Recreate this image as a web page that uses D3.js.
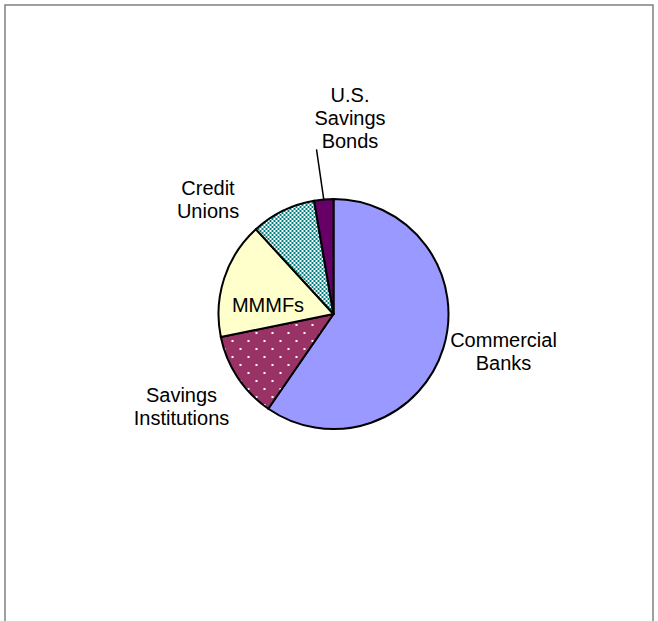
<!DOCTYPE html>
<html>
<head>
<meta charset="utf-8">
<script src="https://cdn.jsdelivr.net/npm/d3@7"></script>
<style>
html,body{margin:0;padding:0;background:#fff;}
svg{display:block;}
text{font-family:Arial,"Liberation Sans",sans-serif;font-size:20px;fill:#000;}
</style>
</head>
<body>
<svg id="chart" width="658" height="621"></svg>
<script>
// Data (percent shares)
const categories = ["Commercial Banks", "Savings Institutions", "MMMFs", "Credit Unions", "U.S. Savings Bonds"];
const values = [59.6, 12.2, 16.4, 9.1, 2.7];
const labelLines = [["Commercial", "Banks"], ["Savings", "Institutions"], ["MMMFs"], ["Credit", "Unions"], ["U.S.", "Savings", "Bonds"]];

const svg = d3.select("#chart");
const W = 658, H = 621;

// border
svg.append("path")
  .attr("d", `M5,${H} L5,5 L653,5 L653,${H}`)
  .attr("fill", "none").attr("stroke", "#808080").attr("stroke-width", 1.5);

const defs = svg.append("defs");
// dotted pattern for Savings Institutions
const p1 = defs.append("pattern").attr("id", "dots").attr("patternUnits", "userSpaceOnUse")
  .attr("width", 16).attr("height", 16);
p1.append("rect").attr("width", 16).attr("height", 16).attr("fill", "#993366");
p1.append("rect").attr("x", 2).attr("y", 2).attr("width", 2).attr("height", 2).attr("fill", "#fff");
p1.append("rect").attr("x", 10).attr("y", 10).attr("width", 2).attr("height", 2).attr("fill", "#fff");
// checker pattern for Credit Unions
const p2 = defs.append("pattern").attr("id", "checker").attr("patternUnits", "userSpaceOnUse")
  .attr("width", 4).attr("height", 4);
p2.append("rect").attr("width", 4).attr("height", 4).attr("fill", "#008080");
p2.append("rect").attr("x", 0).attr("y", 0).attr("width", 2).attr("height", 2).attr("fill", "#fff");
p2.append("rect").attr("x", 2).attr("y", 2).attr("width", 2).attr("height", 2).attr("fill", "#fff");

const fills = ["#9999FF", "url(#dots)", "#FFFFCC", "url(#checker)", "#660066"];

const cx = 333.5, cy = 314, R = 115;
const g = svg.append("g").attr("transform", `translate(${cx},${cy})`);

const pie = d3.pie().sort(null).value(d => d)(values);
const arc = d3.arc().innerRadius(0).outerRadius(R);

g.selectAll("path.slice").data(pie).enter().append("path")
  .attr("class", "slice")
  .attr("d", arc)
  .attr("fill", (d, i) => fills[i])
  .attr("stroke", "#000").attr("stroke-width", 2).attr("stroke-linejoin", "round");

// label layout (offsets relative to pie center: x of text center, baseline of first line)
const labelPos = [
  {dx: 170, dy: 32.5},
  {dx: -152, dy: 88},
  {dx: -65.5, dy: -2},
  {dx: -125.5, dy: -119},
  {dx: 16.5, dy: -212.5}
];
const lineH = 23.4;
labelLines.forEach((lines, i) => {
  const t = g.append("text").attr("text-anchor", "middle")
    .attr("x", labelPos[i].dx).attr("y", labelPos[i].dy);
  lines.forEach((ln, j) => {
    t.append("tspan").attr("x", labelPos[i].dx).attr("y", labelPos[i].dy + j * lineH).text(ln);
  });
});

// leader line for U.S. Savings Bonds
const sb = pie[4];
const midA = (sb.startAngle + sb.endAngle) / 2;
const edge = [Math.sin(midA) * R, -Math.cos(midA) * R];
g.append("line")
  .attr("x1", labelPos[4].dx - 33.5 + 0).attr("y1", labelPos[4].dy + 2 * lineH + 1)
  .attr("x2", edge[0]).attr("y2", edge[1])
  .attr("stroke", "#000").attr("stroke-width", 1.5);
</script>
</body>
</html>
